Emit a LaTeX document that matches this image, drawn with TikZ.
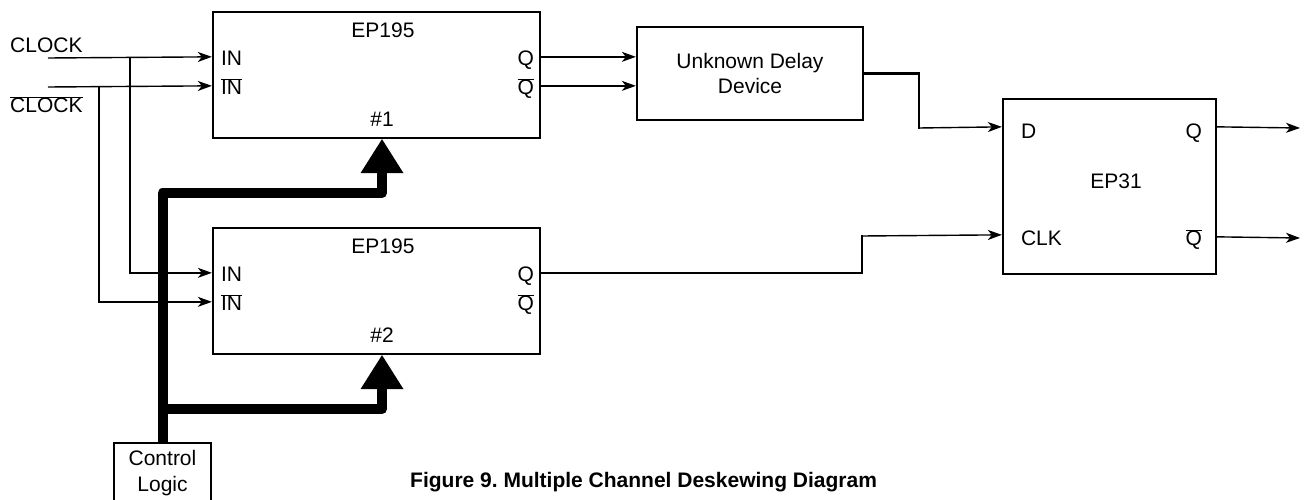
\documentclass[tikz,border=0pt]{standalone}
\usepackage{fontspec}
\setmainfont{Liberation Sans}
\usetikzlibrary{arrows.meta,calc}
\newcommand{\ovl}[1]{$\overline{\mbox{#1}}$}
\frenchspacing

\begin{document}
\begin{tikzpicture}[x=1pt,y=-1pt,line join=miter,
  font=\fontsize{21}{25.5}\selectfont,
  blk/.style={draw,line width=2.3pt,inner sep=0pt},
  lbl/.style={inner sep=0pt},
  sigar/.style={line width=1.4pt,-{Stealth[length=14pt,width=10pt,inset=4pt]}},
  sig/.style={line width=1.4pt},
  wire/.style={line width=2.3pt,line cap=rect},
  bus/.style={line width=10pt,line join=round,-{Triangle[width=43pt,length=34pt,line width=0pt]}}]
\useasboundingbox (0,0) rectangle (1304,500);

\node[blk,minimum width=327pt,minimum height=126pt] (ep195a) at (376.5,75) {};
\node[blk,minimum width=327pt,minimum height=126pt] (ep195b) at (376.5,291) {};
\node[blk,minimum width=226pt,minimum height=93pt,align=center] (delay) at (750,73.5) {Unknown Delay\\Device};
\node[blk,minimum width=213pt,minimum height=175pt] (ep31) at (1109.5,186.5) {};
\node[blk,minimum width=97pt,minimum height=60pt,align=center] (ctrl) at (162.5,473) {Control\\Logic};

\foreach \b/\n in {ep195a/1,ep195b/2}{
  \coordinate (\b-in) at ($(\b.north west)+(0,46)$);
  \coordinate (\b-nin) at ($(\b.north west)+(0,75)$);
  \coordinate (\b-q) at ($(\b.north east)+(0,46)$);
  \coordinate (\b-nq) at ($(\b.north east)+(0,75)$);
  \coordinate (\b-ctl) at ($(\b.south)+(5.5,0)$);
  \node[lbl,anchor=base] (\b-name) at ($(\b.north)+(6.5,27)$) {EP195};
  \node[lbl,anchor=base west] (\b-inlbl) at ($(\b.north west)+(9,55)$) {IN};
  \node[lbl,anchor=base west] (\b-ninlbl) at ($(\b.north west)+(9,84)$) {\ovl{IN}};
  \node[lbl,anchor=base east] (\b-qlbl) at ($(\b.north east)+(-7,55)$) {Q};
  \node[lbl,anchor=base east] (\b-nqlbl) at ($(\b.north east)+(-7,84)$) {\ovl{Q}};
  \node[lbl,anchor=base] (\b-num) at ($(\b.south)+(5.5,-13)$) {\#\n};
}

\coordinate (ep31-d) at ($(ep31.north west)+(0,29)$);
\coordinate (ep31-clk) at ($(ep31.north west)+(0,137)$);
\coordinate (ep31-q) at ($(ep31.north east)+(0,29)$);
\coordinate (ep31-nq) at ($(ep31.north east)+(0,139)$);
\node[lbl,anchor=base west] (dlbl) at ($(ep31.north west)+(19,41)$) {D};
\node[lbl,anchor=base west] (clklbl) at ($(ep31.north west)+(19,148)$) {CLK};
\node[lbl,anchor=base east] (qlbl) at ($(ep31.north east)+(-15,41)$) {Q};
\node[lbl,anchor=base east] (nqlbl) at ($(ep31.north east)+(-15,148)$) {\ovl{Q}};
\node[lbl,anchor=base] (ep31lbl) at (1116,188) {EP31};

\node[lbl,anchor=base west] (clock) at (10,53) {CLOCK};
\node[lbl,anchor=base west] (nclock) at (10,113) {\ovl{CLOCK}};
\node[lbl,anchor=base west,font=\bfseries\fontsize{21}{25.5}\selectfont] (caption) at (410,487) {Figure 9. Multiple Channel Deskewing Diagram};

\coordinate (clkA) at (48,58);
\coordinate (nclkA) at (48,87);
\coordinate (tapA) at (130,58);
\coordinate (tapB) at (99,87);
\coordinate (dbend) at (919,128);
\coordinate (cbend) at (862,236);
\coordinate (qout) at (1300,128);
\coordinate (nqout) at (1300,238);
\coordinate (busTop) at (162.5,193);
\coordinate (busMid) at (162.5,409);

\draw[sigar] (clkA) -- (ep195a-in);
\draw[sigar] (nclkA) -- (ep195a-nin);
\draw[sigar] (tapA) |- (ep195b-in);
\draw[sigar] (tapB) |- (ep195b-nin);

\draw[sigar] (ep195a-q) -- (ep195a-q -| delay.west);
\draw[sigar] (ep195a-nq) -- (ep195a-nq -| delay.west);

\draw[wire] (delay.east) -| (dbend);
\draw[sigar] (dbend) -- (ep31-d);
\draw[wire] (ep195b-q) -| (cbend);
\draw[sigar] (cbend) -- (ep31-clk);

\draw[sigar] (ep31-q) -- (qout);
\draw[sigar] (ep31-nq) -- (nqout);

\draw[bus] (ctrl.north) -- (busTop) -| (ep195a-ctl);
\draw[bus] (busMid) -| (ep195b-ctl);
\end{tikzpicture}
\end{document}
